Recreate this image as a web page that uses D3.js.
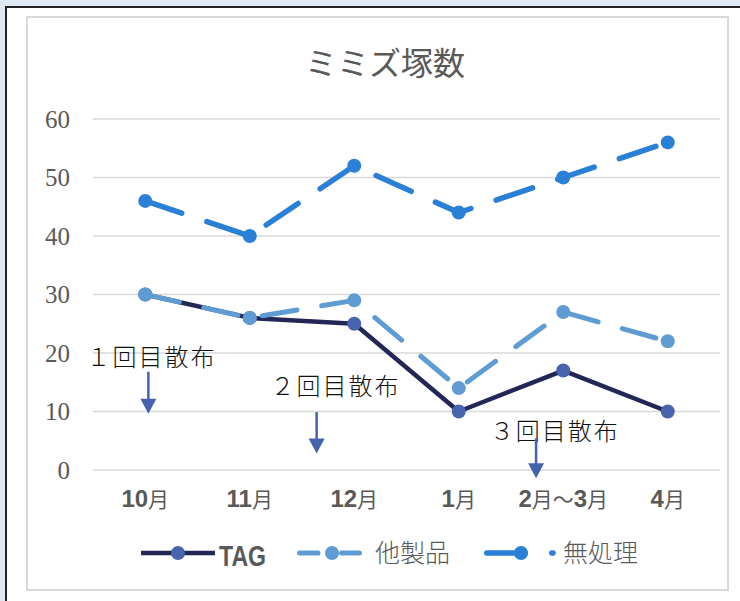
<!DOCTYPE html>
<html>
<head>
<meta charset="utf-8">
<script src="https://cdn.jsdelivr.net/npm/d3@7"></script>
<style>
  body { margin: 0; background: #dfe9f4; }
  svg { display: block; }
</style>
</head>
<body>
<div id="chart"></div>
<script>
// data
var categories = ["10月", "11月", "12月", "1月", "2月～3月", "4月"];
var tagValues = [30, 26, 25, 10, 17, 10];
var otherValues = [30, 26, 29, 14, 27, 22];
var untreatedValues = [46, 40, 52, 44, 50, 56];
var seriesNames = ["TAG", "他製品", "無処理"];
var yTicks = [0, 10, 20, 30, 40, 50, 60];

// spraying notes: label, position in category steps, arrow start / tip values, text baseline value
var annoLabels = ["１回目散布", "２回目散布", "３回目散布"];
var annoAt = [0.03, 1.64, 3.74];
var annoFrom = [16.8, 9.9, 5.4];
var annoTo = [9.6, 2.8, -1.4];
var annoTextAt = [0.06, 1.82, 3.92];
var annoTextValue = [17.8, 12.8, 5.1];

var width = 740, height = 601;
var plot = {left: 93, right: 720, top: 119, bottom: 470};

var svg = d3.select("#chart").append("svg")
    .attr("width", width)
    .attr("height", height);

// outer sheet + chart frame
svg.append("rect").attr("x", 0).attr("y", 0).attr("width", width).attr("height", height).attr("fill", "#dfe9f4");
svg.append("rect").attr("x", 6).attr("y", 7).attr("width", width).attr("height", height)
    .attr("fill", "#fff").attr("stroke", "#222").attr("stroke-width", 2);
svg.append("rect").attr("x", 27).attr("y", 17).attr("width", 701).attr("height", 573)
    .attr("fill", "#fff").attr("stroke", "#d9d9d9").attr("stroke-width", 2);

var x = d3.scalePoint()
    .domain(categories)
    .range([plot.left, plot.right])
    .padding(0.5);

var y = d3.scaleLinear()
    .domain([0, 60])
    .range([plot.bottom, plot.top]);

var step = x.step();

// title
svg.append("text")
    .attr("x", 385)
    .attr("y", 75)
    .attr("text-anchor", "middle")
    .attr("font-family", "'Noto Sans CJK JP', sans-serif")
    .attr("font-size", 32)
    .attr("fill", "#595959")
    .text("ミミズ塚数");

// grid
svg.append("g")
    .selectAll("line")
    .data(yTicks)
    .enter().append("line")
    .attr("x1", plot.left)
    .attr("x2", plot.right)
    .attr("y1", function(d) { return y(d); })
    .attr("y2", function(d) { return y(d); })
    .attr("stroke", "#d9d9d9")
    .attr("stroke-width", 1.5);

// y labels
svg.append("g")
    .selectAll("text")
    .data(yTicks)
    .enter().append("text")
    .attr("x", 70)
    .attr("y", function(d) { return y(d); })
    .attr("dy", "0.34em")
    .attr("text-anchor", "end")
    .attr("font-family", "'Liberation Serif', serif")
    .attr("font-size", 25)
    .attr("fill", "#595959")
    .text(function(d) { return d; });

// x labels: digits bold, the rest regular
var xl = svg.append("g")
    .selectAll("text")
    .data(categories)
    .enter().append("text")
    .attr("x", function(d) { return x(d); })
    .attr("y", 507)
    .attr("text-anchor", "middle")
    .attr("fill", "#595959");

xl.each(function(d) {
    var t = d3.select(this);
    d.split(/(\d+)/).filter(function(s) { return s.length; }).forEach(function(s) {
        var num = /^\d+$/.test(s);
        t.append("tspan")
            .attr("font-family", num ? "'Liberation Sans', Arial, sans-serif" : "'Noto Sans CJK JP', sans-serif")
            .attr("font-weight", num ? "bold" : "normal")
            .attr("font-size", num ? 24 : 21)
            .text(s);
    });
});

var series = [
    {name: seriesNames[0], values: tagValues, line: "#222756", marker: "#4864ae", width: 4.5, dash: null},
    {name: seriesNames[1], values: otherValues, line: "#5e9cd3", marker: "#5e9cd3", width: 5, dash: "35,25"},
    {name: seriesNames[2], values: untreatedValues, line: "#2a7fd7", marker: "#2a7fd7", width: 5.5, dash: "38.5,26.5"}
];

var line = d3.line()
    .x(function(d, i) { return x(categories[i]); })
    .y(function(d) { return y(d); });

series.forEach(function(s) {
    var g = svg.append("g");
    g.append("path")
        .attr("d", line(s.values))
        .attr("fill", "none")
        .attr("stroke", s.line)
        .attr("stroke-width", s.width)
        .attr("stroke-linecap", "round")
        .attr("stroke-linejoin", "round")
        .attr("stroke-dasharray", s.dash);
    g.selectAll("circle")
        .data(s.values)
        .enter().append("circle")
        .attr("cx", function(d, i) { return x(categories[i]); })
        .attr("cy", function(d) { return y(d); })
        .attr("r", 7)
        .attr("fill", s.marker);
});

// spraying notes
var arrowColor = "#4462ad";
var x0 = x(categories[0]);
annoLabels.forEach(function(label, i) {
    var ax = x0 + annoAt[i] * step;
    var top = y(annoFrom[i]), tip = y(annoTo[i]);
    svg.append("text")
        .attr("x", x0 + annoTextAt[i] * step)
        .attr("y", y(annoTextValue[i]))
        .attr("text-anchor", "middle")
        .attr("font-family", "'Noto Sans CJK JP', sans-serif")
        .attr("font-weight", 300)
        .attr("font-size", 24)
        .attr("letter-spacing", 2)
        .attr("fill", "#111")
        .text(label);
    svg.append("line")
        .attr("x1", ax).attr("x2", ax)
        .attr("y1", top).attr("y2", tip - 12)
        .attr("stroke", arrowColor)
        .attr("stroke-width", 2.5);
    svg.append("path")
        .attr("d", "M" + (ax - 8) + "," + (tip - 15) + "L" + (ax + 8) + "," + (tip - 15) + "L" + ax + "," + tip + "Z")
        .attr("fill", arrowColor);
});

// legend
var legendY = 553;
var lg = svg.append("g");

// TAG
lg.append("line").attr("x1", 141).attr("x2", 215).attr("y1", legendY).attr("y2", legendY)
    .attr("stroke", series[0].line).attr("stroke-width", series[0].width);
lg.append("circle").attr("cx", 178).attr("cy", legendY).attr("r", 7).attr("fill", series[0].marker);
lg.append("text").attr("x", 219).attr("y", 566)
    .attr("font-family", "'Liberation Sans', Arial, sans-serif")
    .attr("font-weight", "bold").attr("font-size", 29)
    .attr("textLength", 47).attr("lengthAdjust", "spacingAndGlyphs")
    .attr("fill", "#595959").text(series[0].name);

// 他製品
lg.append("line").attr("x1", 299.5).attr("x2", 359.5).attr("y1", legendY).attr("y2", legendY)
    .attr("stroke", series[1].line).attr("stroke-width", series[1].width)
    .attr("stroke-linecap", "round").attr("stroke-dasharray", "18.5,23.5");
lg.append("circle").attr("cx", 332).attr("cy", legendY).attr("r", 7).attr("fill", series[1].marker);
lg.append("text").attr("x", 375).attr("y", legendY).attr("dy", "0.36em")
    .attr("font-family", "'Noto Sans CJK JP', sans-serif").attr("font-weight", 300)
    .attr("font-size", 25).attr("fill", "#595959").text(series[1].name);

// 無処理
lg.append("line").attr("x1", 486.75).attr("x2", 553).attr("y1", legendY).attr("y2", legendY)
    .attr("stroke", series[2].line).attr("stroke-width", series[2].width)
    .attr("stroke-linecap", "round").attr("stroke-dasharray", series[2].dash);
lg.append("circle").attr("cx", 521).attr("cy", legendY).attr("r", 7).attr("fill", series[2].marker);
lg.append("text").attr("x", 563).attr("y", legendY).attr("dy", "0.36em")
    .attr("font-family", "'Noto Sans CJK JP', sans-serif").attr("font-weight", 300)
    .attr("font-size", 25).attr("fill", "#595959").text(series[2].name);
</script>
</body>
</html>
